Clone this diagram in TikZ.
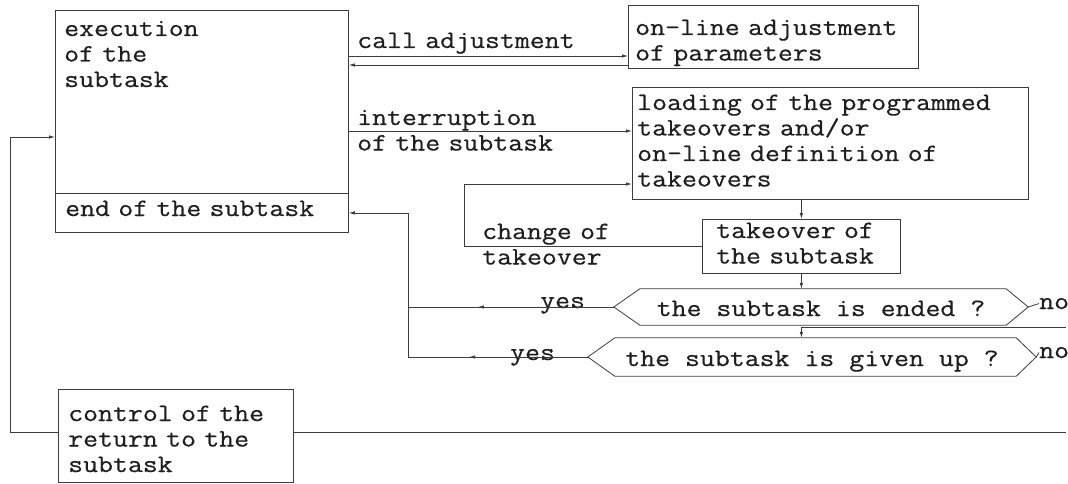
\documentclass[tikz,border=0pt]{standalone}
\usepackage{fontspec}
\newfontfamily\twfont{Latin Modern Mono}[FakeStretch=1.16, FakeBold=0.5]
\usetikzlibrary{arrows.meta,decorations.markings}
\definecolor{ink}{HTML}{1F1F1F}
\definecolor{wire}{HTML}{3C3C3C}
\tikzset{
  box/.style={draw=wire, line width=0.8pt, inner sep=0pt, anchor=north west},
  txt/.style={font=\twfont\fontsize{25}{25.5}\selectfont, text=ink, inner sep=0pt, anchor=base west, align=left},
  wireline/.style={draw=wire, line width=0.8pt},
  arr/.style={wireline, -{Latex[length=6pt,width=3.5pt]}},
  midarr/.style={postaction={decorate}, decoration={markings, mark=at position #1 with {\arrow{Latex[length=6pt,width=3.5pt]}}}},
  hexnode/.style={font=\twfont\fontsize{25}{25.5}\selectfont, text=ink, inner sep=0pt, text height=18pt, text depth=0pt}
}
\begin{document}
\begin{tikzpicture}[x=1pt,y=-1pt]
\fill[white] (0,0) rectangle (1068,484);
\useasboundingbox (0,0) rectangle (1068,484);

% boxes
\node[box, minimum width=293pt, minimum height=183pt] (exec) at (55,10) {};
\node[box, minimum width=293pt, minimum height=39pt] (endb) at (55,193) {};
\node[box, minimum width=290pt, minimum height=63pt] (adj) at (628,5) {};
\node[box, minimum width=396pt, minimum height=112pt] (load) at (632,87) {};
\node[box, minimum width=198pt, minimum height=54pt] (take) at (702,219) {};
\node[box, minimum width=235pt, minimum height=93pt] (ctrl) at (58,389) {};

% texts
\node[txt, text width=140pt] (tExec) at (64,36) {execution\\of the\\subtask};
\node[txt, text width=278pt] (tEnd) at (65,216) {end of the subtask};
\node[txt, text width=278pt] (tAdj) at (635,35) {on-line adjustment\\of parameters};
\node[txt, text width=232pt] (tCall) at (357,48) {call adjustment};
\node[txt, text width=217pt] (tInt) at (357,125) {interruption\\of the subtask};
\node[txt, text width=385pt] (tLoad) at (637,110) {loading of the programmed\\takeovers and/or\\on-line definition of\\takeovers};
\node[txt, text width=170pt] (tTake) at (716,238) {takeover of\\the subtask};
\node[txt, text width=139pt] (tChg) at (482,239) {change of\\takeover};
\node[txt, text width=217pt] (tCtrl) at (68,421) {control of the\\return to the\\subtask};

% decisions
\node[hexnode, minimum width=414pt, minimum height=36pt] (dec1) at (821,307) {the subtask is ended ?};
\node[hexnode, minimum width=448pt, minimum height=38pt] (dec2) at (812,357) {the subtask is given up ?};
\draw[wireline] (dec1.west) -- ([xshift=26pt]dec1.north west) -- ([xshift=-22pt]dec1.north east) -- (dec1.east) -- ([xshift=-22pt]dec1.south east) -- ([xshift=26pt]dec1.south west) -- cycle;
\draw[wireline] (dec2.west) -- ([xshift=27pt]dec2.north west) -- ([xshift=-20pt]dec2.north east) -- (dec2.east) -- ([xshift=-20pt]dec2.south east) -- ([xshift=27pt]dec2.south west) -- cycle;

\node[txt] (no1) at (1039,309) {no};
\node[txt] (no2) at (1039,358) {no};
\node[txt] (yes1) at (540,308) {yes};
\node[txt] (yes2) at (510,360) {yes};

% connectors
\coordinate (callY) at ([yshift=-51pt]adj.north west);
\coordinate (retY) at ([yshift=-60pt]adj.north west);
\coordinate (intY) at ([yshift=-44pt]load.north west);
\coordinate (chgY) at ([yshift=-97pt]load.north west);
\coordinate (rA) at (1066,327);
\coordinate (rB) at (1066,432);
\coordinate (vb) at (dec2.west -| 408,0);

\draw[arr] (exec.east |- callY) -- (callY);
\draw[arr] (retY) -- (exec.east |- retY);
\draw[arr] (exec.east |- intY) -- (intY);
\draw[arr] (take.west) -- ++(-238pt,0) |- (chgY);
\draw[arr] (take.north |- load.south) -- (take.north);
\draw[arr] (take.south) -- (take.south |- dec1.north);
\draw[wireline] (dec1.east) -- (no1.west);
\draw[wireline] (dec2.east) -- (no2.west);
\draw[arr] (rA) -| (take.south |- dec2.north);
\draw[wireline, midarr=0.66] (dec1.west) -- (dec1.west -| vb);
\draw[wireline, midarr=0.66] (dec2.west) -- (vb);
\draw[arr] (vb) |- (endb.east);
\draw[wireline] (rB) -- (rB -| ctrl.east);
\draw[arr] (ctrl.west |- rB) -- (10,432) -- (10,137) -- (exec.west |- 0,137);
\end{tikzpicture}
\end{document}
